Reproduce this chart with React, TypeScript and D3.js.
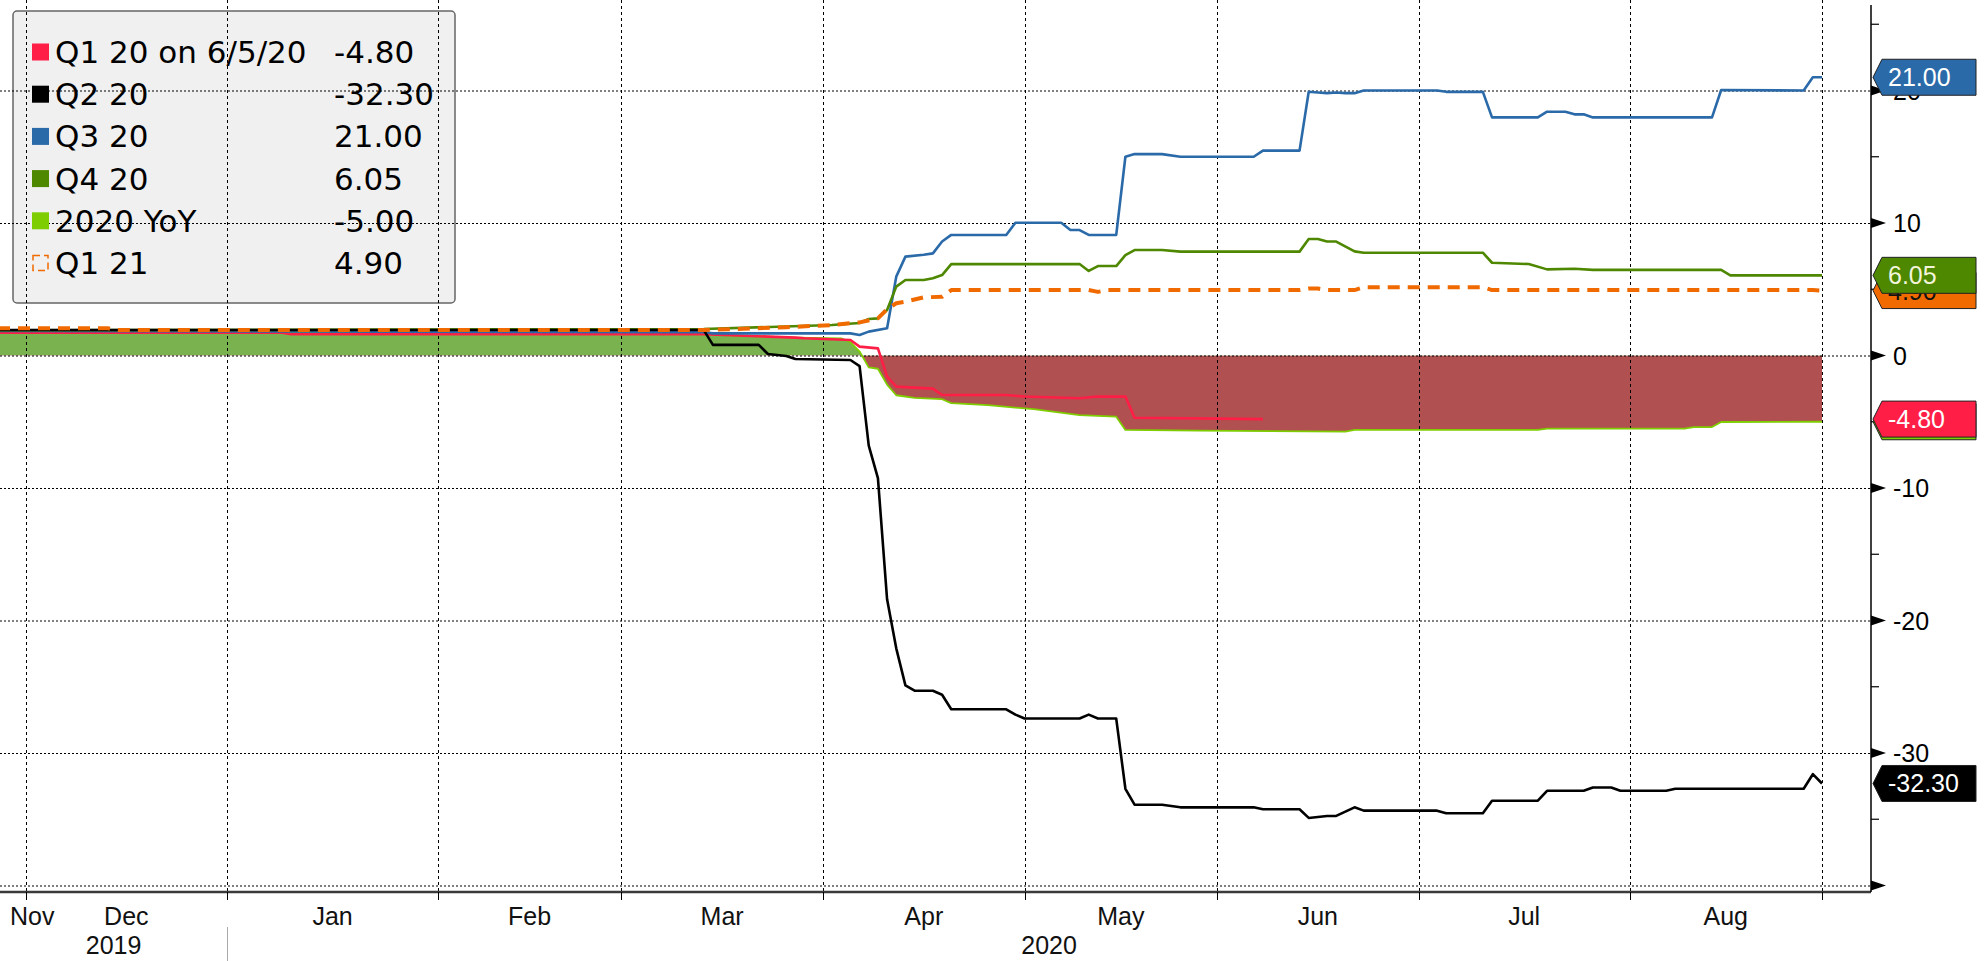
import * as d3 from 'd3';
import React, { useEffect, useRef } from 'react';

// series values: [date, value]
const q1_20: [string, number][] = [
  ['2019-11-27', 1.72], ['2020-01-09', 1.72], ['2020-01-10', 1.6], ['2020-03-13', 1.6],
  ['2020-03-27', 1.35], ['2020-03-30', 1.3], ['2020-04-06', 1.17], ['2020-04-07', 0.67],
  ['2020-04-09', 0.54], ['2020-04-10', -1.6], ['2020-04-13', -2.35], ['2020-04-17', -2.5],
  ['2020-04-20', -2.98], ['2020-04-29', -2.98], ['2020-05-01', -3.1], ['2020-05-11', -3.23],
  ['2020-05-13', -3.1], ['2020-05-18', -3.1], ['2020-05-19', -4.7], ['2020-06-08', -4.8],
];

const q2_20: [string, number][] = [
  ['2019-11-27', 1.92], ['2020-03-13', 1.92], ['2020-03-16', 0.8], ['2020-03-23', 0.8],
  ['2020-03-24', 0.11], ['2020-03-26', -0.04], ['2020-03-27', -0.26], ['2020-04-06', -0.34],
  ['2020-04-07', -0.8], ['2020-04-08', -6.8], ['2020-04-09', -9.25], ['2020-04-10', -18.4],
  ['2020-04-13', -22.1], ['2020-04-14', -24.9], ['2020-04-15', -25.3], ['2020-04-17', -25.3],
  ['2020-04-20', -25.6], ['2020-04-21', -26.7], ['2020-04-29', -26.7], ['2020-04-30', -27.1],
  ['2020-05-01', -27.4], ['2020-05-11', -27.4], ['2020-05-12', -27.1], ['2020-05-13', -27.4],
  ['2020-05-15', -27.4], ['2020-05-18', -32.7], ['2020-05-19', -33.9], ['2020-05-22', -33.9],
  ['2020-05-26', -34.1], ['2020-06-05', -34.1], ['2020-06-08', -34.25], ['2020-06-12', -34.25],
  ['2020-06-15', -34.9], ['2020-06-17', -34.75], ['2020-06-18', -34.75], ['2020-06-22', -34.1],
  ['2020-06-23', -34.35], ['2020-07-03', -34.35], ['2020-07-06', -34.55], ['2020-07-10', -34.55],
  ['2020-07-13', -33.6], ['2020-07-20', -33.6], ['2020-07-21', -32.85], ['2020-07-27', -32.85],
  ['2020-07-28', -32.6], ['2020-07-30', -32.6], ['2020-07-31', -32.85], ['2020-08-07', -32.85],
  ['2020-08-10', -32.7], ['2020-08-28', -32.7], ['2020-08-31', -31.6], ['2020-09-01', -32.3],
];

const q3_20: [string, number][] = [
  ['2019-11-27', 1.85], ['2020-03-13', 1.75], ['2020-03-16', 1.67], ['2020-04-06', 1.67],
  ['2020-04-07', 1.55], ['2020-04-08', 1.8], ['2020-04-10', 2.05], ['2020-04-13', 5.95],
  ['2020-04-14', 7.46], ['2020-04-16', 7.6], ['2020-04-17', 7.71], ['2020-04-20', 8.6],
  ['2020-04-21', 9.1], ['2020-04-29', 9.1], ['2020-04-30', 10.02], ['2020-05-07', 10.02],
  ['2020-05-08', 9.47], ['2020-05-11', 9.47], ['2020-05-12', 9.1], ['2020-05-15', 9.1],
  ['2020-05-18', 15.0], ['2020-05-19', 15.2], ['2020-05-22', 15.2], ['2020-05-26', 15.0],
  ['2020-06-05', 15.0], ['2020-06-08', 15.46], ['2020-06-12', 15.46], ['2020-06-15', 19.9],
  ['2020-06-16', 19.85], ['2020-06-17', 19.8], ['2020-06-18', 19.85], ['2020-06-19', 19.8],
  ['2020-06-22', 19.8], ['2020-06-23', 20.0], ['2020-07-03', 20.0], ['2020-07-06', 19.9],
  ['2020-07-10', 19.9], ['2020-07-13', 17.97], ['2020-07-20', 17.97], ['2020-07-21', 18.4],
  ['2020-07-23', 18.4], ['2020-07-24', 18.2], ['2020-07-27', 18.2], ['2020-07-28', 17.97],
  ['2020-08-14', 17.97], ['2020-08-17', 20.04], ['2020-08-28', 20.0], ['2020-08-31', 21.0],
  ['2020-09-01', 21.0],
];

const q4_20: [string, number][] = [
  ['2019-11-27', 1.9], ['2020-03-13', 2.0], ['2020-04-02', 2.3], ['2020-04-07', 2.45],
  ['2020-04-08', 2.75], ['2020-04-09', 2.8], ['2020-04-10', 3.43], ['2020-04-13', 5.2],
  ['2020-04-14', 5.7], ['2020-04-16', 5.7], ['2020-04-17', 5.83], ['2020-04-20', 6.07],
  ['2020-04-21', 6.9], ['2020-05-11', 6.9], ['2020-05-12', 6.38], ['2020-05-13', 6.75],
  ['2020-05-15', 6.75], ['2020-05-18', 7.58], ['2020-05-19', 7.96], ['2020-05-22', 7.96],
  ['2020-05-26', 7.84], ['2020-06-12', 7.84], ['2020-06-15', 8.79], ['2020-06-16', 8.79],
  ['2020-06-17', 8.6], ['2020-06-18', 8.6], ['2020-06-22', 7.86], ['2020-06-23', 7.76],
  ['2020-07-10', 7.76], ['2020-07-13', 7.0], ['2020-07-17', 6.9], ['2020-07-21', 6.5],
  ['2020-07-24', 6.55], ['2020-07-28', 6.46], ['2020-08-17', 6.46], ['2020-08-18', 6.05],
  ['2020-09-01', 6.05],
];

const yoy_20: [string, number][] = [
  ['2019-11-27', 1.75], ['2020-02-13', 1.75], ['2020-02-14', 2.0], ['2020-03-06', 2.0],
  ['2020-03-13', 1.6], ['2020-03-27', 1.35], ['2020-04-03', 1.3], ['2020-04-06', 1.0],
  ['2020-04-07', 0.3], ['2020-04-08', -0.9], ['2020-04-09', -1.0], ['2020-04-10', -2.2],
  ['2020-04-13', -3.0], ['2020-04-15', -3.2], ['2020-04-20', -3.3], ['2020-04-21', -3.6],
  ['2020-04-27', -3.75], ['2020-05-04', -4.05], ['2020-05-11', -4.5], ['2020-05-15', -4.62],
  ['2020-05-18', -5.62], ['2020-05-28', -5.67], ['2020-06-19', -5.75], ['2020-06-22', -5.62],
  ['2020-07-20', -5.62], ['2020-07-21', -5.52], ['2020-08-11', -5.52], ['2020-08-12', -5.4],
  ['2020-08-14', -5.4], ['2020-08-17', -5.02], ['2020-09-01', -5.0],
];

const q1_21: [string, number][] = [
  ['2019-11-27', 2.05], ['2019-12-13', 2.05], ['2019-12-16', 1.92], ['2020-03-13', 1.92],
  ['2020-03-26', 2.13], ['2020-04-02', 2.3], ['2020-04-07', 2.5], ['2020-04-09', 2.8],
  ['2020-04-10', 3.5], ['2020-04-13', 3.94], ['2020-04-14', 4.06], ['2020-04-16', 4.39],
  ['2020-04-20', 4.43], ['2020-04-21', 4.94], ['2020-05-12', 4.94], ['2020-05-13', 4.8],
  ['2020-05-14', 4.94], ['2020-06-12', 4.94], ['2020-06-15', 5.05], ['2020-06-16', 5.05],
  ['2020-06-17', 4.94], ['2020-06-22', 4.94], ['2020-06-23', 5.15], ['2020-07-10', 5.15],
  ['2020-07-13', 4.94], ['2020-08-31', 4.94], ['2020-09-01', 4.9],
];

// legend + last value tags
const seriesNames = ['Q1 20 on 6/5/20', 'Q2 20', 'Q3 20', 'Q4 20', '2020 YoY', 'Q1 21'];
const lastValues = [-4.8, -32.3, 21.0, 6.05, -5.0, 4.9];
const seriesColors = ['#ff1e46', '#000000', '#2b6aa9', '#4e8700', '#7dcd00', '#f06a00'];
const tagTextColors = ['#ffffff', '#ffffff', '#ffffff', '#f2f5dc', '#ffffff', '#111111'];

// axis labels
const monthLabels = ['Nov', 'Dec', 'Jan', 'Feb', 'Mar', 'Apr', 'May', 'Jun', 'Jul', 'Aug'];
const monthStarts = ['2019-11-01', '2019-12-01', '2020-01-01', '2020-02-01', '2020-03-01',
  '2020-04-01', '2020-05-01', '2020-06-01', '2020-07-01', '2020-08-01', '2020-09-01'];
const yearLabels = ['2019', '2020'];
const yLabelTicks = [20, 10, 0, -10, -20, -30];

const W = 1986;
const H = 961;
const FONT = '"Liberation Sans", Arial, sans-serif';
const LEGEND_FONT = '"DejaVu Sans", Verdana, sans-serif';

const parse = d3.timeParse('%Y-%m-%d');
const base = parse('2019-11-25') as Date; // a Monday

// the time axis only counts weekdays
function bday(s: string) {
  const n = d3.timeDay.count(base, parse(s) as Date);
  return Math.floor(n / 7) * 5 + Math.min(n % 7, 5);
}

function App() {
  const ref = useRef<SVGSVGElement>(null);

  useEffect(() => {
    const svg = d3.select(ref.current);
    svg.selectAll('*').remove();

    const axisX = 1871;
    const axisY = 892;

    // set the ranges
    const x = d3.scaleLinear()
      .domain([bday('2019-12-01'), bday('2020-09-01')])
      .range([25.5, 1822]);
    const y = d3.scaleLinear().domain([-40, 20]).range([885.5, 90.5]);

    // legend box goes below the grid
    svg.append('rect')
      .attr('x', 13).attr('y', 11)
      .attr('width', 442).attr('height', 292)
      .attr('rx', 4)
      .attr('fill', '#f0f0f0')
      .attr('stroke', '#666')
      .attr('stroke-width', 1.5);

    // 2020 YoY area, green above zero, red below
    const defs = svg.append('defs');
    defs.append('clipPath').attr('id', 'above')
      .append('rect').attr('x', 0).attr('y', 0).attr('width', W).attr('height', y(0));
    defs.append('clipPath').attr('id', 'below')
      .append('rect').attr('x', 0).attr('y', y(0)).attr('width', W).attr('height', H - y(0));

    const area = d3.area<[string, number]>()
      .x(d => x(bday(d[0])))
      .y0(y(0))
      .y1(d => y(d[1]));

    svg.append('path').datum(yoy_20)
      .attr('d', area).attr('fill', '#79b24e').attr('clip-path', 'url(#above)');
    svg.append('path').datum(yoy_20)
      .attr('d', area).attr('fill', '#b05050').attr('clip-path', 'url(#below)');

    // grid
    const grid = svg.append('g').attr('stroke', '#000').attr('stroke-width', 1);
    d3.range(-40, 21, 10).forEach(v => {
      grid.append('line')
        .attr('x1', 0).attr('x2', axisX)
        .attr('y1', y(v) + 0.5).attr('y2', y(v) + 0.5)
        .attr('stroke-dasharray', '2,2');
    });
    monthStarts.slice(1).forEach(m => {
      const xx = Math.round(x(bday(m))) + 0.5;
      grid.append('line')
        .attr('x1', xx).attr('x2', xx)
        .attr('y1', 0).attr('y2', axisY)
        .attr('stroke-dasharray', '3,3');
    });

    // lines
    const line = d3.line<[string, number]>()
      .x(d => x(bday(d[0])))
      .y(d => y(d[1]));

    const drawLine = (data: [string, number][], color: string, width: number, dash?: string) => {
      svg.append('path').datum(data)
        .attr('d', line)
        .attr('fill', 'none')
        .attr('stroke', color)
        .attr('stroke-width', width)
        .attr('stroke-linejoin', 'round')
        .attr('stroke-dasharray', dash || null);
    };
    drawLine(yoy_20, seriesColors[4], 1.8);
    drawLine(q1_20, seriesColors[0], 2.6);
    drawLine(q3_20, seriesColors[2], 2.6);
    drawLine(q4_20, seriesColors[3], 2.6);
    drawLine(q2_20, seriesColors[1], 2.6);
    drawLine(q1_21, seriesColors[5], 4, '12,8');

    // legend content
    const lg = svg.append('g');
    seriesNames.forEach((name, i) => {
      const cy = 52 + i * 42.2;
      if (i === 5) {
        lg.append('rect')
          .attr('x', 33).attr('y', cy - 7.5).attr('width', 15).attr('height', 15)
          .attr('fill', 'none').attr('stroke', seriesColors[i])
          .attr('stroke-width', 1.5).attr('stroke-dasharray', '7,4');
      } else {
        lg.append('rect')
          .attr('x', 32).attr('y', cy - 8.5).attr('width', 17).attr('height', 17)
          .attr('fill', seriesColors[i]);
      }
      lg.append('text')
        .attr('x', 55).attr('y', cy + 11)
        .attr('font-family', LEGEND_FONT).attr('font-size', 31)
        .attr('fill', '#000')
        .text(name);
      lg.append('text')
        .attr('x', 334).attr('y', cy + 11)
        .attr('font-family', LEGEND_FONT).attr('font-size', 31)
        .attr('fill', '#000')
        .text(lastValues[i].toFixed(2));
    });

    // x axis
    svg.append('line')
      .attr('x1', 0).attr('x2', axisX)
      .attr('y1', axisY).attr('y2', axisY)
      .attr('stroke', '#3a3a3a').attr('stroke-width', 2.5);
    monthStarts.slice(1).forEach(m => {
      const xx = Math.round(x(bday(m))) + 0.5;
      svg.append('line')
        .attr('x1', xx).attr('x2', xx)
        .attr('y1', axisY).attr('y2', axisY + 8)
        .attr('stroke', '#000').attr('stroke-width', 1);
    });
    monthLabels.forEach((m, i) => {
      const x0 = Math.max(0, x(bday(monthStarts[i])));
      const x1 = x(bday(monthStarts[i + 1]));
      const left = (x0 + x1) / 2 < 30;
      svg.append('text')
        .attr('x', left ? 10 : (x0 + x1) / 2)
        .attr('y', 925)
        .attr('text-anchor', left ? 'start' : 'middle')
        .attr('font-family', FONT).attr('font-size', 25)
        .attr('fill', '#111')
        .text(m);
    });
    const jan = x(bday('2020-01-01'));
    svg.append('line')
      .attr('x1', Math.round(jan) + 0.5).attr('x2', Math.round(jan) + 0.5)
      .attr('y1', 927).attr('y2', H)
      .attr('stroke', '#aaa').attr('stroke-width', 1);
    yearLabels.forEach((yr, i) => {
      svg.append('text')
        .attr('x', i === 0 ? jan / 2 : (jan + axisX) / 2)
        .attr('y', 954)
        .attr('text-anchor', 'middle')
        .attr('font-family', FONT).attr('font-size', 25)
        .attr('fill', '#111')
        .text(yr);
    });

    // y axis on the right
    svg.append('line')
      .attr('x1', axisX).attr('x2', axisX)
      .attr('y1', 5).attr('y2', axisY)
      .attr('stroke', '#000').attr('stroke-width', 1.5);
    d3.range(-40, 26, 5).forEach(v => {
      const yy = y(v);
      if (v % 10 === 0) {
        svg.append('path')
          .attr('d', `M${axisX},${yy - 5}L${axisX + 15},${yy}L${axisX},${yy + 5}Z`)
          .attr('fill', '#000');
      } else {
        svg.append('line')
          .attr('x1', axisX).attr('x2', axisX + 8)
          .attr('y1', yy).attr('y2', yy)
          .attr('stroke', '#000').attr('stroke-width', 1.2);
      }
    });
    yLabelTicks.forEach(v => {
      svg.append('text')
        .attr('x', 1893).attr('y', y(v) + 9)
        .attr('font-family', FONT).attr('font-size', 25)
        .attr('fill', '#000')
        .text(String(v));
    });

    // last value tags, lower ones first
    const tagOrder = [5, 3, 4, 0, 2, 1];
    tagOrder.forEach(i => {
      const cy = y(lastValues[i]);
      svg.append('path')
        .attr('d', `M${axisX + 2},${cy}L${axisX + 11},${cy - 18}L1976,${cy - 18}L1976,${cy + 18}L${axisX + 11},${cy + 18}Z`)
        .attr('fill', seriesColors[i])
        .attr('stroke', '#222').attr('stroke-width', 1);
      svg.append('text')
        .attr('x', 1888).attr('y', cy + 9)
        .attr('font-family', FONT).attr('font-size', 25)
        .attr('fill', tagTextColors[i])
        .text(lastValues[i].toFixed(2));
    });
  }, []);

  return (
    <svg
      ref={ref}
      width={W}
      height={H}
      style={{ position: 'absolute', left: 0, top: 0, background: '#fff' }}
    />
  );
}

export default App;
